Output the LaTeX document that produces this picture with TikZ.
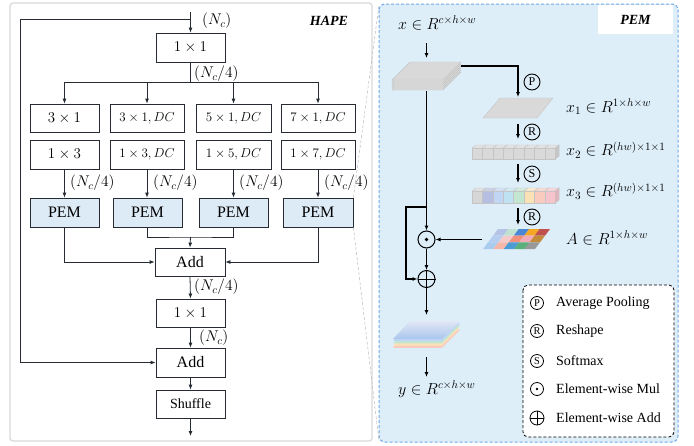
\RequirePackage{fix-cm}
\documentclass[tikz,border=0pt]{standalone}
\usepackage[no-math]{fontspec}
\setmainfont{Liberation Serif}
\usetikzlibrary{arrows.meta,calc}
\definecolor{pemfill}{HTML}{DDEBF7}
\definecolor{panelfill}{HTML}{DDEEF9}
\definecolor{paneldash}{HTML}{6FA8E6}
\definecolor{lgrey}{HTML}{D9D9D9}
\definecolor{edgegrey}{HTML}{C4C4C4}
\definecolor{lnc}{HTML}{262B33}
\definecolor{gca}{HTML}{B4C3E6}
\definecolor{gcb}{HTML}{BFE3D0}
\definecolor{gcc}{HTML}{4A86D6}
\definecolor{gcd}{HTML}{F5A623}
\definecolor{gce}{HTML}{C0504D}
\definecolor{gcf}{HTML}{B5CDF0}
\definecolor{gcg}{HTML}{F4CACA}
\definecolor{gch}{HTML}{F0907A}
\definecolor{gci}{HTML}{F2A9B8}
\definecolor{gcj}{HTML}{C38A3A}
\definecolor{gck}{HTML}{A9CCEE}
\definecolor{gcl}{HTML}{F5B8A8}
\definecolor{gcm}{HTML}{4B9BD5}
\definecolor{gcn}{HTML}{5BAF7B}
\definecolor{gco}{HTML}{999999}
\definecolor{bxa}{HTML}{D6D6D6}
\definecolor{bxb}{HTML}{B6BFE2}
\definecolor{bxc}{HTML}{C0D6F4}
\definecolor{bxd}{HTML}{BEE2F2}
\definecolor{bxe}{HTML}{C2E6CF}
\definecolor{bxf}{HTML}{FBE2B6}
\definecolor{bxg}{HTML}{F8CBBE}
\definecolor{bxh}{HTML}{F6C4CC}
\tikzset{
  box/.style={draw=lnc, line width=0.8pt, inner sep=0pt, minimum height=29pt},
  pembox/.style={box, fill=pemfill, font=\fontsize{16}{18}\selectfont},
  ln/.style={draw=lnc, line width=0.8pt},
  arr/.style={-{Latex[length=5pt,width=4pt]}},
  thk/.style={draw=black, line width=1.4pt},
  fa/.style={font=\fontsize{15}{18}\selectfont},
  fb/.style={font=\fontsize{13}{15}\selectfont},
  lab/.style={font=\fontsize{15.5}{17}\selectfont, inner sep=0pt, anchor=west},
  rlab/.style={font=\fontsize{16}{18}\selectfont, inner sep=0pt, anchor=west},
  opc/.style={circle, draw=black, line width=0.9pt, inner sep=0pt, minimum size=16pt, font=\fontsize{12}{13}\selectfont},
  legc/.style={circle, draw=black, line width=0.8pt, inner sep=0pt, minimum size=13pt, font=\fontsize{10.5}{11}\selectfont},
  legt/.style={font=\fontsize{14}{16}\selectfont, inner sep=0pt, anchor=west},
  bigop/.style={circle, draw=black, line width=1pt, inner sep=0pt, minimum size=17pt},
}
\begin{document}
\begin{tikzpicture}[x=1pt,y=-1pt]
\useasboundingbox (0,0) rectangle (694,445);
% ---------------- left panel
\draw[draw=lgrey, line width=1.2pt, rounded corners=3pt] (10,3) rectangle (372,441);
\node[font=\bfseries\itshape\fontsize{14}{16}\selectfont] (hape) at (329,21) {HAPE};

\node[box, fa, minimum width=69pt] (c1) at (190.5,47.5) {$1\times1$};
\node[box, fa, minimum width=69pt, minimum height=28pt] (a1) at (64.5,118) {$3\times1$};
\node[box, fb, minimum width=74pt, minimum height=28pt] (a2) at (147,118) {$3\times1, DC$};
\node[box, fb, minimum width=75pt, minimum height=28pt] (a3) at (233.5,118) {$5\times1, DC$};
\node[box, fb, minimum width=74pt, minimum height=28pt] (a4) at (318,118) {$7\times1, DC$};
\node[box, fa, minimum width=69pt] (b1) at (64.5,154.5) {$1\times3$};
\node[box, fb, minimum width=74pt] (b2) at (147,154.5) {$1\times3, DC$};
\node[box, fb, minimum width=75pt] (b3) at (233.5,154.5) {$1\times5, DC$};
\node[box, fb, minimum width=74pt] (b4) at (318,154.5) {$1\times7, DC$};
\node[pembox, minimum width=69pt] (p1) at (64.5,212.5) {PEM};
\node[pembox, minimum width=69pt] (p2) at (147.5,212.5) {PEM};
\node[pembox, minimum width=69pt] (p3) at (233.5,212.5) {PEM};
\node[pembox, minimum width=70pt] (p4) at (318,212.5) {PEM};
\node[box, minimum width=70pt, minimum height=28pt, font=\fontsize{16}{18}\selectfont] (add1) at (190,262) {Add};
\node[box, fa, minimum width=69pt, minimum height=28pt] (c2) at (190.5,313) {$1\times1$};
\node[box, minimum width=69pt, font=\fontsize{16}{18}\selectfont] (add2) at (190.5,362.5) {Add};
\node[box, minimum width=69pt, minimum height=28pt, font=\fontsize{14}{16}\selectfont] (sh) at (190.5,404) {Shuffle};

\coordinate (in) at (190.5,12);
\coordinate (fb) at (190.5,19);
\coordinate (fbl) at (20,19);
\coordinate (sp) at (190.5,82);
\coordinate (jm) at (190.5,237);
\coordinate (out) at (190.5,436);

\draw[ln,arr] (in) -- (c1.north);
\draw[ln,arr] (fb) -- (fbl) |- (add2.west);
\draw[ln] (c1.south) -- (sp);
\draw[ln] (a1.north |- sp) -- (a4.north |- sp);
\foreach \n in {a1,a2,a3,a4} \draw[ln,arr] (\n.north |- sp) -- (\n.north);
\foreach \n/\m in {b1/p1,b2/p2,b3/p3,b4/p4} \draw[ln,arr] (\n.south) -- (\n.south |- \m.north);
\draw[ln] (p2.south) |- (jm) -| (p3.south);
\draw[ln,arr] (jm) -- (add1.north);
\draw[ln,arr] (p1.south) |- (add1.west);
\draw[ln,arr] (p4.south) |- (add1.east);
\draw[ln,arr] (add1.south) -- (c2.north);
\draw[ln,arr] (c2.south) -- (add2.north);
\draw[ln,arr] (add2.south) -- (sh.north);
\draw[ln,arr] (sh.south) -- (out);

\node[lab] (n0) at (202,21) {$(N_c)$};
\node[lab] (n1) at (194,74) {$(N_c/4)$};
\node[lab] (n2) at (70,183) {$(N_c/4)$};
\node[lab] (n3) at (153,183) {$(N_c/4)$};
\node[lab] (n4) at (239,183) {$(N_c/4)$};
\node[lab] (n5) at (324,183) {$(N_c/4)$};
\node[lab] (n6) at (194,287) {$(N_c/4)$};
\node[lab] (n7) at (199,338) {$(N_c)$};

% ---------------- right panel
\coordinate (rpTL) at (379,5);
\coordinate (rpBL) at (379,441);
\draw[draw=paneldash, fill=panelfill, line width=1pt, dash pattern=on 3pt off 2pt, rounded corners=6pt] (379,4) rectangle (678,442);
\draw[draw=gray!55, line width=0.5pt, dash pattern=on 3pt off 2pt] (p4.north east) -- (rpTL);
\draw[draw=gray!55, line width=0.5pt, dash pattern=on 3pt off 2pt] (p4.south east) -- (rpBL);
\node[fill=white, inner sep=0pt, minimum width=75pt, minimum height=29pt, font=\bfseries\itshape\fontsize{14}{16}\selectfont] (pemlab) at (635.5,19.5) {PEM};

\node[rlab] (xl) at (398,23) {$x\in R^{c\times h\times w}$};
\coordinate (xa1) at (426.5,43);
\coordinate (s1t) at (426.5,58);
\draw[thk,arr] (xa1) -- (s1t);
% input stack
\foreach \k in {5,4,3,2,1,0}
  \filldraw[fill=lgrey, draw=edgegrey, line width=0.4pt] (410,62+2*\k) -- (461,62+2*\k) -- (443,80+2*\k) -- (392,80+2*\k) -- cycle;
\coordinate (s1r) at (461,66);
\coordinate (s1b) at (426.5,91);
\coordinate (x1t) at (518,97);
\draw[thk,arr] (s1r) -| (x1t);
\node[opc] (cP) at (532,82) {P};
% x1 plane
\filldraw[fill=lgrey, draw=edgegrey, line width=0.4pt] (500,98) -- (553,98) -- (537,118) -- (483,118) -- cycle;
\node[rlab] (x1l) at (566,107) {$x_1\in R^{1\times h\times w}$};
\coordinate (r1a) at (518,124);
\coordinate (r1b) at (518,139);
\draw[thk,arr] (r1a) -- (r1b);
\node[opc] (cR1) at (532,132) {R};
% x2 bar
\foreach \i in {0,...,7} {
  \filldraw[fill=lgrey, draw=edgegrey, line width=0.4pt] (472+10.4*\i,148) rectangle (482.4+10.4*\i,159);
  \filldraw[fill=lgrey!70!white, draw=edgegrey, line width=0.4pt] (472+10.4*\i,148) -- (476+10.4*\i,145) -- (486.4+10.4*\i,145) -- (482.4+10.4*\i,148) -- cycle;
}
\filldraw[fill=gray!45, draw=edgegrey, line width=0.4pt] (555.2,148) -- (559.2,145) -- (559.2,156) -- (555.2,159) -- cycle;
\node[rlab] (x2l) at (566,150) {$x_2\in R^{(hw)\times1\times1}$};
\coordinate (s2a) at (518,164);
\coordinate (s2b) at (518,183);
\draw[thk,arr] (s2a) -- (s2b);
\node[opc] (cS) at (532,174) {S};
% x3 bar
\foreach \i/\c in {0/bxa,1/bxb,2/bxc,3/bxd,4/bxe,5/bxf,6/bxg,7/bxh} {
  \filldraw[fill=\c, draw=edgegrey, line width=0.4pt] (472+10.4*\i,191) rectangle (482.4+10.4*\i,203);
  \filldraw[fill=\c!70!white, draw=edgegrey, line width=0.4pt] (472+10.4*\i,191) -- (476+10.4*\i,188) -- (486.4+10.4*\i,188) -- (482.4+10.4*\i,191) -- cycle;
}
\filldraw[fill=bxh!80!gray, draw=edgegrey, line width=0.4pt] (555.2,191) -- (559.2,188) -- (559.2,200) -- (555.2,203) -- cycle;
\node[rlab] (x3l) at (566,191) {$x_3\in R^{(hw)\times1\times1}$};
\coordinate (r2a) at (518,208);
\coordinate (r2b) at (518,225);
\draw[thk,arr] (r2a) -- (r2b);
\node[opc] (cR2) at (532,217) {R};
% A grid
\begin{scope}[shift={(498,229)}, x={(10.4pt,0pt)}, y={(-5pt,-6.667pt)}]
  \foreach \i/\j/\c in {0/0/gca,1/0/gcb,2/0/gcc,3/0/gcd,4/0/gce,
                        0/1/gcf,1/1/gcg,2/1/gch,3/1/gci,4/1/gcj,
                        0/2/gck,1/2/gcl,2/2/gcm,3/2/gcn,4/2/gco}
    \fill[fill=\c] (\i,\j) -- (\i+1,\j) -- (\i+1,\j+1) -- (\i,\j+1) -- cycle;
\end{scope}
\node[rlab] (Al) at (566,238) {$A\in R^{1\times h\times w}$};
\coordinate (Aw) at (482,239.5);
% operators
\node[bigop] (mul) at (426.5,239.5) {};
\fill (mul.center) circle (1.8pt);
\node[bigop] (plus) at (426.5,279) {};
\draw[line width=1pt] (plus.north) -- (plus.south);
\draw[line width=1pt] (plus.west) -- (plus.east);
\draw[thk,arr] (s1b) -- (mul.north);
\draw[thk,arr] (Aw) -- (mul.east);
\coordinate (skA) at (426.5,207);
\coordinate (skB) at (406,207);
\draw[thk,arr] (skA) -- (skB) |- (plus.west);
\draw[thk,arr] (mul.south) -- (plus.north);
\coordinate (ost) at (426.5,315);
\draw[thk,arr] (plus.south) -- (ost);
% output stack
\foreach \k/\c in {4/bxg,3/bxf,2/bxe,1/bxc}
  \fill[fill=\c] (410,321+2.2*\k) -- (460,321+2.2*\k) -- (442,339+2.2*\k) -- (393,339+2.2*\k) -- cycle;
\shade[top color=gca!40!white, bottom color=gcf!90!gcc] (410,321) -- (460,321) -- (442,339) -- (393,339) -- cycle;
\coordinate (osb) at (426.5,357);
\coordinate (yt) at (426.5,377);
\draw[thk,arr] (osb) -- (yt);
\node[rlab] (yl) at (398,389) {$y\in R^{c\times h\times w}$};
% legend
\draw[draw=black, fill=white, line width=0.8pt, dash pattern=on 3pt off 2pt, rounded corners=5pt] (523,285) rectangle (674,437);
\node[legc] (lP) at (537,303) {P};
\node[legt] (tP) at (556,303) {Average Pooling};
\node[legc] (lR) at (537,331) {R};
\node[legt] (tR) at (556,331) {Reshape};
\node[legc] (lS) at (537,361) {S};
\node[legt] (tS) at (556,361) {Softmax};
\node[legc] (lM) at (537,389) {};
\fill (lM.center) circle (1.4pt);
\node[legt] (tM) at (556,389) {Element-wise Mul};
\node[legc, minimum size=14pt] (lA) at (537,418) {};
\draw[line width=0.8pt] (lA.north) -- (lA.south);
\draw[line width=0.8pt] (lA.west) -- (lA.east);
\node[legt] (tA) at (556,418) {Element-wise Add};
\end{tikzpicture}
\end{document}
